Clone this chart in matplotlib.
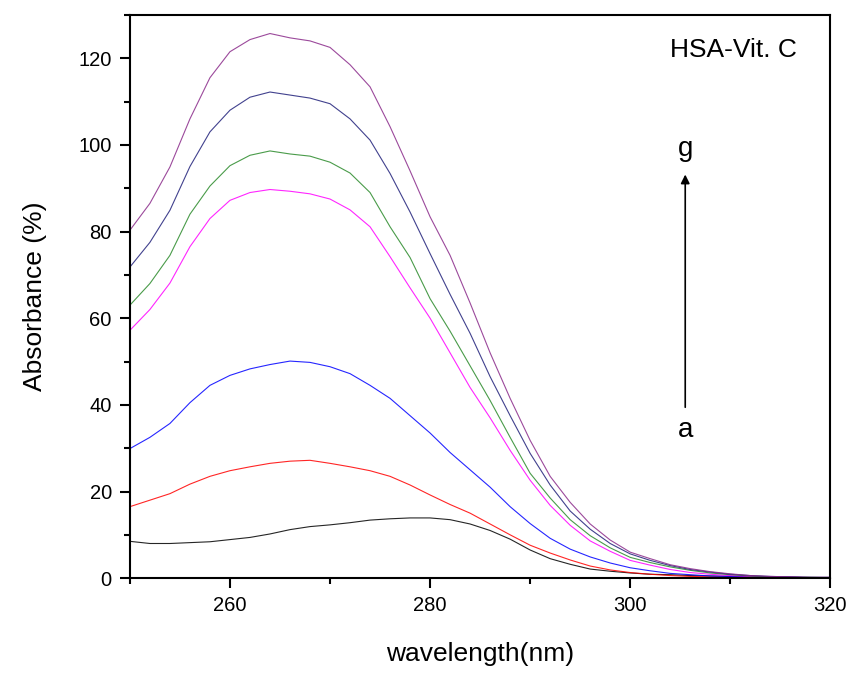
import matplotlib.pyplot as plt
from matplotlib.ticker import MultipleLocator

plt.rcParams['font.family'] = ['Liberation Sans', 'DejaVu Sans']

# wavelength grid (nm)
wl = [250, 252, 254, 256, 258, 260, 262, 264, 266, 268, 270, 272, 274, 276, 278,
      280, 282, 284, 286, 288, 290, 292, 294, 296, 298, 300, 302, 304, 306, 308,
      310, 312, 314, 316, 318, 320]

# absorbance curves a..g
a = [8.5, 8.0, 8.0, 8.2, 8.4, 8.9, 9.4, 10.2, 11.2, 11.9, 12.3, 12.8, 13.4, 13.7, 13.9,
     13.9, 13.5, 12.5, 11.0, 9.0, 6.5, 4.5, 3.2, 2.1, 1.6, 1.2, 0.9, 0.8, 0.6, 0.5,
     0.4, 0.3, 0.2, 0.2, 0.1, 0.1]
b = [16.5, 18.0, 19.5, 21.7, 23.5, 24.8, 25.7, 26.5, 27.0, 27.2, 26.5, 25.7, 24.8, 23.5, 21.5,
     19.2, 17.0, 15.0, 12.5, 10.0, 7.6, 5.8, 4.2, 2.8, 1.9, 1.3, 0.9, 0.6, 0.4, 0.3,
     0.2, 0.2, 0.1, 0.1, 0.1, 0.1]
c = [29.9, 32.5, 35.7, 40.5, 44.5, 46.8, 48.3, 49.3, 50.1, 49.8, 48.8, 47.2, 44.5, 41.5, 37.5,
     33.5, 29.0, 25.0, 21.0, 16.5, 12.6, 9.2, 6.7, 4.9, 3.5, 2.4, 1.7, 1.1, 0.8, 0.5,
     0.4, 0.3, 0.2, 0.2, 0.1, 0.1]
d = [57.2, 62.0, 68.1, 76.5, 83.0, 87.2, 89.0, 89.7, 89.3, 88.7, 87.5, 85.0, 81.1, 74.2, 67.0,
     60.0, 52.0, 44.0, 37.0, 29.5, 22.6, 16.8, 12.2, 8.6, 6.2, 4.1, 3.0, 2.0, 1.3, 0.9,
     0.6, 0.4, 0.3, 0.2, 0.1, 0.1]
e = [63.0, 68.0, 74.5, 84.0, 90.5, 95.2, 97.6, 98.6, 97.9, 97.4, 96.0, 93.5, 89.0, 81.1, 74.0,
     64.5, 57.0, 49.0, 41.0, 32.5, 24.2, 18.5, 13.5, 9.8, 7.0, 4.8, 3.6, 2.6, 1.8, 1.2,
     0.8, 0.5, 0.3, 0.2, 0.2, 0.1]
f = [71.8, 77.5, 84.9, 95.0, 103.0, 108.0, 111.0, 112.2, 111.5, 110.8, 109.5, 106.0, 101.1, 93.4, 84.5,
     74.9, 65.5, 56.5, 46.5, 37.5, 28.8, 21.5, 15.5, 11.3, 8.0, 5.6, 4.1, 2.9, 2.0, 1.4,
     0.9, 0.6, 0.4, 0.3, 0.2, 0.2]
g = [80.3, 86.5, 94.9, 106.0, 115.5, 121.5, 124.3, 125.7, 124.7, 124.0, 122.5, 118.5, 113.4, 104.2, 94.0,
     83.4, 74.5, 63.5, 52.0, 41.5, 31.8, 23.5, 17.5, 12.5, 8.8, 6.0, 4.5, 3.1, 2.2, 1.5,
     1.0, 0.6, 0.4, 0.3, 0.2, 0.2]

curves = [a, b, c, d, e, f, g]
colors = ['black', 'red', 'blue', 'magenta', '#2a8a2a', '#20207a', '#8a2a8a']

fig = plt.figure(figsize=(8.49, 6.77), dpi=100)
ax = fig.add_axes([0.153, 0.146, 0.825, 0.832])

for y, col in zip(curves, colors):
    ax.plot(wl, y, color=col, linewidth=0.8, alpha=0.85)

ax.set_xlim(250, 320)
ax.set_ylim(0, 130)
ax.xaxis.set_major_locator(MultipleLocator(20))
ax.xaxis.set_minor_locator(MultipleLocator(10))
ax.yaxis.set_major_locator(MultipleLocator(20))
ax.yaxis.set_minor_locator(MultipleLocator(10))
ax.set_xticks([260, 280, 300, 320])
ax.tick_params(which='major', direction='out', length=7, width=1.5, labelsize=14.5, pad=6)
ax.tick_params(which='minor', direction='out', length=4, width=1.5)
for s in ax.spines.values():
    s.set_linewidth(1.5)

ax.set_xlabel('wavelength(nm)', fontsize=19, labelpad=19)
ax.set_ylabel('Absorbance (%)', fontsize=19, labelpad=23)

ax.text(304, 120.2, 'HSA-Vit. C', fontsize=19, va='baseline', ha='left')
ax.annotate('', xy=(305.5, 93.8), xytext=(305.5, 38.8),
            arrowprops=dict(arrowstyle='-|>', color='black', lw=1.2, mutation_scale=13))
ax.text(305.5, 97.4, 'g', fontsize=20, ha='center', va='baseline')
ax.text(305.5, 32.5, 'a', fontsize=20, ha='center', va='baseline')

fig.savefig('out.png', dpi=100)
